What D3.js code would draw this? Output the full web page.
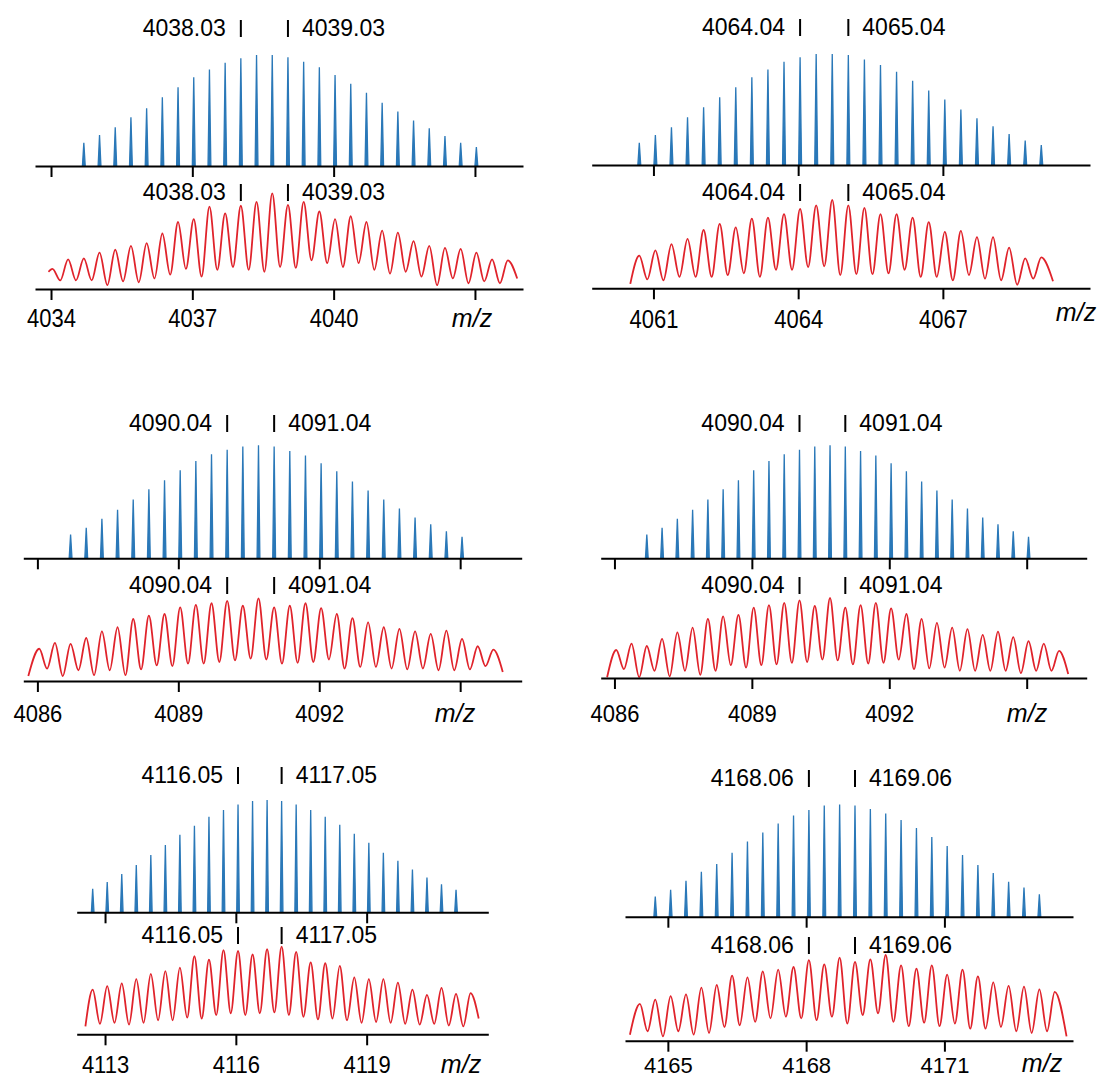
<!DOCTYPE html>
<html>
<head>
<meta charset="utf-8">
<script src="https://cdn.jsdelivr.net/npm/d3@7"></script>
<style>
  html, body { margin: 0; padding: 0; background: #ffffff; }
  svg { display: block; font-family: "Liberation Sans", Arial, Helvetica, sans-serif; }
</style>
</head>
<body>
<svg id="fig" width="1113" height="1080"></svg>
<script>
// ---------------------------------------------------------------------------
// Isotope envelopes of six ions (charge 3+, isotope spacing 1/3 m/z).
// sim*  : calculated pattern, relative intensity per isotope (first index -10)
// expP* : measured profile maxima, relative intensity (first index in expFirst*)
// expV* : measured profile minima between neighbouring maxima
// expE* : [isotope index, intensity] of the first and last recorded points
// Isotope index 0 is the labelled m/z value (mono*), index 3 is mono* + 1.
// ---------------------------------------------------------------------------

// Panel A
const monoA = 4038.03;
const ticksA = [4034, 4037, 4040, 4043];
const tickLabelsA = ["4034", "4037", "4040"];
const simA = [21, 28, 35, 44, 52, 62, 71, 80, 87, 93, 97, 100, 100, 98, 94, 89, 82, 74, 66, 57, 49, 41, 34, 27, 21, 17];
const expFirstA = -12;
const expPA = [21, 31, 32, 38, 41, 45, 48, 58, 70, 73, 86, 79, 87, 91, 100, 88, 91, 81, 73, 76, 70, 61, 59, 50, 45, 43, 42, 38, 31, 30];
const expVA = [9, 9, 9, 4, 8, 7, 11, 15, 21, 13, 20, 23, 20, 18, 23, 22, 30, 27, 23, 27, 20, 16, 18, 13, 4, 11, 6, 8, 6];
const expEA = [[-12.25, 18], [17.6, 11]];

// Panel B
const monoB = 4064.04;
const ticksB = [4061, 4064, 4067];
const tickLabelsB = ["4061", "4064", "4067"];
const simB = [20, 27, 34, 43, 52, 61, 70, 79, 86, 93, 97, 100, 100, 99, 95, 90, 84, 76, 67, 59, 50, 42, 35, 28, 22, 18];
const expFirstB = -10;
const expPB = [37, 43, 50, 56, 66, 73, 69, 79, 80, 84, 90, 94, 100, 94, 91, 84, 84, 80, 75, 64, 65, 58, 58, 46, 34, 35];
const expVB = [10, 9, 13, 13, 13, 15, 17, 13, 21, 21, 24, 25, 15, 16, 16, 17, 21, 13, 13, 9, 15, 11, 9, 4, 11];
const expEB = [[-10.56, 5], [15.73, 8]];

// Panel C
const monoC = 4090.04;
const ticksC = [4086, 4089, 4092, 4095];
const tickLabelsC = ["4086", "4089", "4092"];
const simC = [21, 27, 35, 43, 52, 61, 69, 78, 86, 92, 96, 99, 100, 99, 95, 91, 84, 77, 68, 60, 52, 44, 36, 30, 24, 19];
const expFirstC = -12;
const expPC = [39, 46, 45, 52, 60, 65, 75, 79, 81, 89, 92, 94, 97, 91, 100, 89, 91, 94, 88, 81, 76, 71, 65, 63, 60, 57, 61, 51, 42, 38];
const expVC = [15, 6, 13, 7, 13, 7, 14, 19, 18, 21, 21, 23, 25, 27, 26, 21, 22, 23, 26, 15, 17, 17, 15, 14, 15, 13, 13, 14, 18];
const expEC = [[-12.7, 6], [17.6, 11]];

// Panel D
const monoD = 4090.04;
const ticksD = [4086, 4089, 4092, 4095];
const tickLabelsD = ["4086", "4089", "4092"];
const simD = [21, 27, 35, 43, 52, 61, 69, 78, 86, 92, 96, 99, 100, 99, 95, 91, 84, 77, 68, 60, 52, 44, 36, 30, 24, 19];
const expFirstD = -12;
const expPD = [35, 43, 40, 49, 57, 63, 74, 77, 79, 88, 91, 94, 97, 90, 100, 88, 91, 94, 87, 80, 74, 69, 63, 61, 54, 58, 51, 46, 43, 34];
const expVD = [11, 1, 9, 2, 9, 4, 9, 16, 13, 16, 17, 19, 20, 23, 22, 17, 18, 19, 23, 11, 12, 13, 9, 9, 9, 9, 6, 9, 9];
const expED = [[-12.6, 1], [17.6, 5]];

// Panel E
const monoE = 4116.05;
const ticksE = [4113, 4116, 4119];
const tickLabelsE = ["4113", "4116", "4119"];
const simE = [21, 27, 34, 42, 51, 60, 69, 77, 85, 91, 96, 99, 100, 99, 96, 91, 85, 78, 70, 62, 53, 46, 38, 31, 25, 20];
const expFirstE = -10;
const expPE = [51, 55, 58, 63, 69, 72, 76, 89, 85, 96, 95, 91, 97, 100, 94, 82, 81, 78, 65, 63, 63, 59, 51, 45, 53, 46, 47];
const expVE = [12, 13, 11, 13, 16, 16, 19, 18, 22, 24, 22, 24, 25, 22, 20, 17, 18, 16, 13, 14, 13, 12, 11, 12, 10, 9];
const expEE = [[-10.5, 9], [16.56, 18]];

// Panel F
const monoF = 4168.06;
const ticksF = [4165, 4168, 4171];
const tickLabelsF = ["4165", "4168", "4171"];
const simF = [18, 24, 32, 40, 47, 57, 67, 75, 83, 90, 95, 99, 100, 99, 96, 92, 86, 79, 71, 63, 55, 46, 39, 31, 26, 20];
const expFirstF = -11;
const expPF = [43, 48, 52, 54, 62, 65, 76, 74, 81, 83, 86, 94, 89, 97, 92, 95, 100, 88, 84, 88, 77, 83, 75, 68, 64, 63, 60, 57];
const expVF = [11, 5, 11, 7, 9, 16, 18, 22, 26, 28, 26, 24, 28, 20, 30, 32, 22, 17, 21, 17, 20, 14, 14, 16, 11, 9, 11];
const expEF = [[-11.65, 7], [16.77, 5]];

const simFirst = -10;

// ---------------------------------------------------------------------------
// Layout of each panel on the page (pixels)
// ---------------------------------------------------------------------------
const panels = [
  { mono: monoA, ticks: ticksA, labels: tickLabelsA, sim: simA, expFirst: expFirstA, expP: expPA, expV: expVA, expE: expEA,
    dom: [4033.66, 4044.02], xr: [35, 523], simAxis: 166, simH: 111, expAxis: 289, expH: 95.7,
    simLab: 36, expLab: 200, tickLabY: 327, tickStretch: 1.2, mz: [472, 327] },
  { mono: monoB, ticks: ticksB, labels: tickLabelsB, sim: simB, expFirst: expFirstB, expP: expPB, expV: expVB, expE: expEB,
    dom: [4059.72, 4070.05], xr: [591.7, 1090], simAxis: 165, simH: 111, expAxis: 288.3, expH: 88.3,
    simLab: 35, expLab: 200, tickLabY: 328, tickStretch: 1.15, mz: [1076, 321] },
  { mono: monoC, ticks: ticksC, labels: tickLabelsC, sim: simC, expFirst: expFirstC, expP: expPC, expV: expVC, expE: expEC,
    dom: [4085.70, 4096.31], xr: [23.3, 521.7], simAxis: 558.3, simH: 113, expAxis: 681, expH: 82.7,
    simLab: 431, expLab: 593, tickLabY: 722, tickStretch: 1.1, mz: [455, 722] },
  { mono: monoD, ticks: ticksD, labels: tickLabelsD, sim: simD, expFirst: expFirstD, expP: expPD, expV: expVD, expE: expED,
    dom: [4085.70, 4096.31], xr: [600.7, 1086.7], simAxis: 558.3, simH: 113, expAxis: 678, expH: 80,
    simLab: 431, expLab: 593, tickLabY: 722, tickStretch: 1.1, mz: [1027, 722] },
  { mono: monoE, ticks: ticksE, labels: tickLabelsE, sim: simE, expFirst: expFirstE, expP: expPE, expV: expVE, expE: expEE,
    dom: [4112.35, 4121.79], xr: [76.7, 488.3], simAxis: 912.3, simH: 112.3, expAxis: 1034.3, expH: 87.7,
    simLab: 783, expLab: 943, tickLabY: 1073, tickStretch: 1.05, mz: [461, 1073] },
  { mono: monoF, ticks: ticksF, labels: tickLabelsF, sim: simF, expFirst: expFirstF, expP: expPF, expV: expVF, expE: expEF,
    dom: [4164.07, 4173.79], xr: [625, 1073], simAxis: 916.7, simH: 112.3, expAxis: 1040.7, expH: 85.7,
    simLab: 786, expLab: 953, tickLabY: 1073, tickStretch: 1.0, mz: [1042, 1072] }
];

const BLUE = "#2a78b8";
const RED = "#e0232b";
const FONT = 22;
const MARK_FONT = 23;

const svg = d3.select("#fig");

// two labelled isotope markers: "<m/z> |   | <m/z+1>"
function markers(g, x, mono, baseline) {
  const vals = [mono, mono + 1];
  vals.forEach((v, i) => {
    const px = x(v);
    g.append("line")
      .attr("x1", px).attr("x2", px)
      .attr("y1", baseline - 16).attr("y2", baseline + 1)
      .attr("stroke", "#000").attr("stroke-width", 2);
    g.append("text")
      .attr("x", i === 0 ? px - 15 : px + 14)
      .attr("y", baseline)
      .attr("text-anchor", i === 0 ? "end" : "start")
      .attr("font-size", MARK_FONT)
      .attr("fill", "#000")
      .text(v.toFixed(2));
  });
}

function axis(g, x, ticks, y0, labels, labelY, stretch) {
  const ax = d3.axisBottom(x)
    .tickValues(ticks)
    .tickSize(11)
    .tickSizeOuter(0)
    .tickFormat(d => (labels && labels.includes(String(d))) ? String(d) : "");
  const a = g.append("g").attr("transform", `translate(0,${y0})`).call(ax);
  a.select(".domain").attr("stroke", "#000").attr("stroke-width", 2);
  a.selectAll(".tick line").attr("stroke", "#000").attr("stroke-width", 2);
  const s = stretch || 1;
  a.selectAll(".tick text")
    .attr("font-size", FONT)
    .attr("font-family", "'Liberation Sans', Arial, sans-serif")
    .attr("fill", "#000")
    .attr("dy", 0)
    .attr("y", (labelY - y0) / s)
    .attr("transform", `scale(1,${s})`);
}

panels.forEach(p => {
  const g = svg.append("g");
  const x = d3.scaleLinear().domain(p.dom).range(p.xr);
  const isoMz = k => p.mono + k / 3;

  // ---- calculated pattern (blue sticks) ----
  const ySim = d3.scaleLinear().domain([0, 100]).range([p.simAxis, p.simAxis - p.simH]);
  const hw = 0.03;
  g.append("g").selectAll("path")
    .data(p.sim)
    .join("path")
    .attr("d", (v, i) => {
      const m = isoMz(simFirst + i);
      return `M${x(m - hw)},${ySim(0)}L${x(m)},${ySim(v)}L${x(m + hw)},${ySim(0)}Z`;
    })
    .attr("fill", BLUE)
    .attr("stroke", BLUE)
    .attr("stroke-width", 1.3)
    .attr("stroke-linejoin", "miter");

  axis(g, x, p.ticks, p.simAxis, null, 0, 1);
  markers(g, x, p.mono, p.simLab);

  // ---- measured profile (red trace) ----
  const yExp = d3.scaleLinear().domain([0, 100]).range([p.expAxis, p.expAxis - p.expH]);
  const pts = [p.expE[0]];
  p.expP.forEach((v, i) => {
    pts.push([p.expFirst + i, v]);
    if (i < p.expV.length) pts.push([p.expFirst + i + 0.5, p.expV[i]]);
  });
  pts.push(p.expE[1]);
  const line = d3.line()
    .x(d => x(isoMz(d[0])))
    .y(d => yExp(d[1]))
    .curve(d3.curveMonotoneX);
  g.append("path")
    .attr("d", line(pts))
    .attr("fill", "none")
    .attr("stroke", RED)
    .attr("stroke-width", 1.8)
    .attr("stroke-linejoin", "round");

  axis(g, x, p.ticks, p.expAxis, p.labels, p.tickLabY, p.tickStretch);
  markers(g, x, p.mono, p.expLab);

  g.append("text")
    .attr("x", p.mz[0]).attr("y", p.mz[1])
    .attr("text-anchor", "middle")
    .attr("font-size", 25)
    .attr("font-style", "italic")
    .attr("fill", "#000")
    .text("m/z");
});
</script>
</body>
</html>
